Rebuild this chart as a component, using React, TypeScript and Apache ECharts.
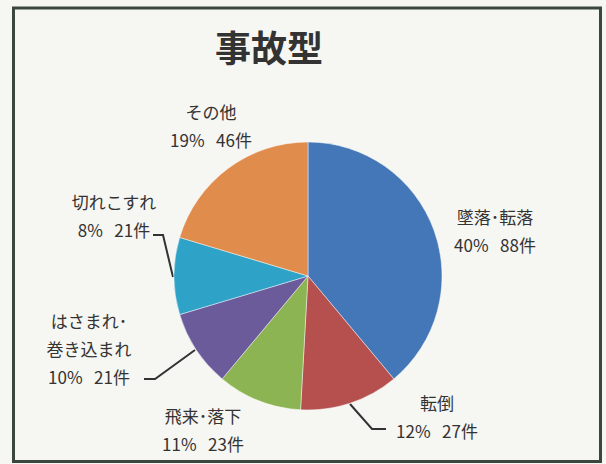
import React, { useEffect, useRef } from "react";
import * as echarts from "echarts";

const categories = ["墜落・転落", "転倒", "飛来・落下", "はさまれ・巻き込まれ", "切れこすれ", "その他"];
const labelNames = ["墜落･転落", "転倒", "飛来･落下", "はさまれ･\n巻き込まれ", "切れこすれ", "その他"];
const counts = [88, 27, 23, 21, 21, 46];
const percentLabels = ["40%", "12%", "11%", "10%", "8%", "19%"];
const colors = ["#4477b8", "#b5504f", "#8db452", "#6c5b9b", "#2ea3c7", "#e08c4c"];

const FONT = "'Noto Sans CJK JP', 'Noto Sans', sans-serif";

// label anchor positions (centre of text block) and optional leader lines
const labelPos: Record<number, { x: number; y: number; line?: number[][] }> = {
  0: { x: 495, y: 230 },
  1: { x: 437, y: 416, line: [[350, 404], [372, 429], [386, 429]] },
  2: { x: 203, y: 429 },
  3: { x: 89, y: 348, line: [[195, 350], [155, 379], [144, 379]] },
  4: { x: 114, y: 215, line: [[173, 277], [163, 235], [153, 235]] },
  5: { x: 211, y: 125 },
};

export default function App() {
  const ref = useRef<HTMLDivElement>(null);
  useEffect(() => {
    document.body.style.margin = "0";
    const chart = echarts.init(ref.current!, null, { renderer: "svg" });
    chart.setOption({
      animation: false,
      backgroundColor: "#f6f6f2",
      title: {
        text: "事故型",
        left: 264,
        top: 23,
        textAlign: "center",
        textStyle: { fontFamily: FONT, fontSize: 36, fontWeight: "bold", color: "#333333" },
      },
      graphic: [
        {
          type: "rect",
          shape: { x: 13.5, y: 8, width: 587, height: 453.5 },
          style: { fill: "none", stroke: "#3b463f", lineWidth: 3 },
          z: 100,
        },
      ],
      series: [
        {
          type: "pie",
          center: [308, 276],
          radius: 134,
          startAngle: 90,
          clockwise: true,
          avoidLabelOverlap: false,
          itemStyle: { borderColor: "rgba(255,255,255,0.45)", borderWidth: 1 },
          label: {
            show: true,
            position: "outside",
            fontFamily: FONT,
            fontSize: 17,
            color: "#333333",
            lineHeight: 28,
            align: "center",
            formatter: (p: any) =>
              `${labelNames[p.dataIndex]}\n${percentLabels[p.dataIndex]}\u00a0\u00a0\u00a0${counts[p.dataIndex]}件`,
          },
          labelLine: { show: true, lineStyle: { color: "#333333", width: 2 } },
          labelLayout: (params: any) => {
            const pos = labelPos[params.dataIndex];
            const out: any = { x: pos.x, y: pos.y, align: "center", verticalAlign: "middle" };
            if (pos.line) out.labelLinePoints = pos.line;
            return out;
          },
          data: categories.map((name, i) => ({
            name,
            value: counts[i],
            itemStyle: { color: colors[i] },
            labelLine: { show: !!labelPos[i].line },
          })),
        },
      ],
    });
    return () => chart.dispose();
  }, []);
  return <div ref={ref} style={{ position: "absolute", left: 0, top: 0, width: 606, height: 464 }} />;
}
